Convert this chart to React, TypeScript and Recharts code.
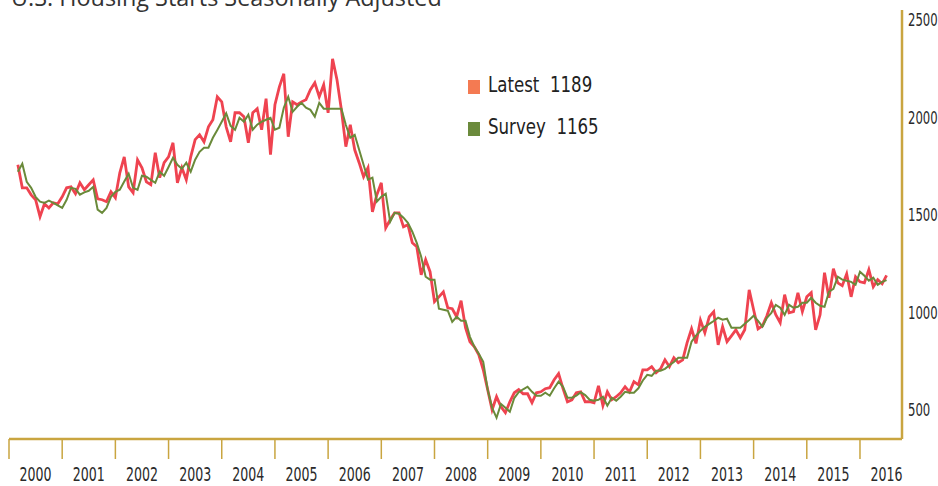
import React from 'react';
import { LineChart, Line, XAxis, YAxis } from 'recharts';

const TITLE = 'U.S. Housing Starts Seasonally Adjusted';
const START_YEAR = 2000;
const START_MONTH = 2; // first observation: February 2000

// Latest (actual) housing starts, thousands SAAR, monthly Feb 2000 – Jun 2016
const latest = [
  1756, 1638, 1638, 1602, 1577, 1490, 1556, 1535, 1561, 1556, 1592,
  1638, 1643, 1608, 1664, 1628, 1654, 1679, 1582, 1577, 1567, 1618, 1587,
  1715, 1797, 1643, 1613, 1782, 1741, 1669, 1654, 1818, 1690, 1767, 1797,
  1869, 1664, 1741, 1679, 1797, 1885, 1910, 1874, 1951, 1987, 2105, 2079,
  1951, 1874, 2023, 2023, 2003, 1869, 2023, 2044, 1936, 2095, 1808, 2064,
  2156, 2223, 1900, 2079, 2064, 2079, 2090, 2141, 2177, 2105, 2167, 2023,
  2300, 2192, 2038, 1849, 1962, 1833, 1767, 1695, 1741, 1515, 1603, 1664,
  1433, 1474, 1510, 1510, 1438, 1449, 1356, 1336, 1192, 1269, 1208, 1054,
  1079, 1105, 1023, 1018, 977, 1059, 921, 849, 823, 782, 705, 603,
  500, 567, 515, 485, 541, 587, 603, 582, 582, 536, 587, 592,
  608, 613, 654, 685, 608, 541, 551, 587, 592, 541, 541, 536,
  623, 521, 592, 551, 567, 587, 618, 592, 644, 628, 705, 705,
  721, 690, 710, 756, 721, 767, 741, 756, 844, 915, 840, 960,
  895, 977, 1003, 833, 926, 849, 879, 910, 869, 910, 1115, 1013,
  915, 931, 982, 1049, 987, 946, 1090, 997, 1003, 1100, 1003, 1079,
  1100, 910, 987, 1203, 1074, 1223, 1151, 1136, 1197, 1079, 1182, 1156,
  1151, 1218, 1131, 1167, 1146, 1189,
];

// Survey (consensus) housing starts, same months
const survey = [
  1721, 1762, 1669, 1638, 1592, 1567, 1561, 1572, 1561, 1548, 1535,
  1577, 1638, 1633, 1603, 1615, 1623, 1643, 1526, 1510, 1535, 1592, 1618,
  1628, 1670, 1710, 1638, 1628, 1700, 1695, 1679, 1664, 1721, 1700, 1745,
  1792, 1756, 1736, 1767, 1721, 1782, 1823, 1844, 1844, 1895, 1935, 1977,
  2020, 1956, 1936, 1997, 1977, 2013, 1936, 1962, 1977, 1987, 1997, 1936,
  1946, 2049, 2105, 2028, 2054, 2074, 2049, 2038, 2003, 2074, 2044, 2044,
  2044, 2044, 2044, 1960, 1895, 1910, 1833, 1756, 1680, 1690, 1567, 1592,
  1608, 1464, 1510, 1505, 1485, 1459, 1413, 1356, 1285, 1182, 1167, 1167,
  1018, 1013, 1008, 951, 977, 956, 956, 874, 823, 787, 746, 603,
  510, 459, 530, 510, 490, 560, 590, 605, 618, 592, 572, 572,
  587, 572, 610, 644, 618, 562, 562, 572, 590, 575, 551, 546,
  551, 567, 521, 562, 546, 567, 592, 587, 587, 610, 650, 679,
  674, 700, 700, 710, 728, 745, 767, 767, 767, 849, 880, 905,
  925, 940, 955, 972, 962, 967, 921, 921, 921, 941, 960, 982,
  956, 926, 972, 997, 1038, 1023, 987, 1038, 1023, 1028, 1049, 1049,
  1074, 1049, 1033, 1028, 1105, 1120, 1182, 1167, 1162, 1156, 1141, 1208,
  1187, 1162, 1177, 1141, 1156, 1165,
];

const yearTicks = [2000, 2001, 2002, 2003, 2004, 2005, 2006, 2007, 2008, 2009, 2010, 2011, 2012, 2013, 2014, 2015, 2016];
const yTicks = [500, 1000, 1500, 2000, 2500];
const xDomain = [2000, 2016.79];
const yDomain = [350, 2550];

const legendItems = [
  { name: 'Latest', value: 1189, color: '#F47A52' },
  { name: 'Survey', value: 1165, color: '#6B8A3C' },
];

const data = latest.map((v, k) => {
  const monthIndex = START_MONTH - 1 + k;
  return { t: START_YEAR + (monthIndex + 1) / 12, latest: v, survey: survey[k] };
});

const CHART_W = 938;
const CHART_H = 486;
const MARGIN = { top: 10, right: 0, left: 9, bottom: 0 };
const Y_AXIS_W = 36;
const PLOT_W = CHART_W - MARGIN.left - MARGIN.right - Y_AXIS_W;
const HALF_YEAR_PX = PLOT_W / (xDomain[1] - xDomain[0]) / 2;

const GOLD = '#C9A540';
const COND = '"DejaVu Sans Condensed", "DejaVu Sans", sans-serif';
const TEXT = '#2a2a2a';

const YearTick = (props: any) => {
  const { x, y, payload } = props;
  const cx = x + HALF_YEAR_PX;
  return (
    <text
      transform={`translate(${cx},${y + 12}) scale(0.7,1)`}
      textAnchor="middle"
      fontFamily={COND}
      fontSize={20}
      fill={TEXT}
    >
      {String(payload.value)}
    </text>
  );
};

const ValueTick = (props: any) => {
  const { x, y, payload } = props;
  return (
    <text
      transform={`translate(${x},${y}) scale(0.72,1)`}
      dy="0.36em"
      textAnchor="start"
      fontFamily={COND}
      fontSize={18}
      fill={TEXT}
    >
      {String(payload.value)}
    </text>
  );
};

export default function App() {
  return (
    <div style={{ position: 'absolute', left: 0, top: 0, width: CHART_W, height: CHART_H, overflow: 'hidden', background: '#fff' }}>
      <LineChart width={CHART_W} height={CHART_H} data={data} margin={MARGIN}>
        <XAxis
          dataKey="t"
          type="number"
          domain={xDomain}
          ticks={yearTicks}
          interval={0}
          height={47}
          tickSize={20}
          tickMargin={10}
          axisLine={{ stroke: GOLD, strokeWidth: 2.5 }}
          tickLine={{ stroke: GOLD, strokeWidth: 1.5 }}
          tick={<YearTick />}
          allowDataOverflow
        />
        <YAxis
          orientation="right"
          type="number"
          domain={yDomain}
          ticks={yTicks}
          interval={0}
          width={Y_AXIS_W}
          tickSize={0}
          tickMargin={6}
          tickLine={false}
          axisLine={{ stroke: GOLD, strokeWidth: 2.5 }}
          tick={<ValueTick />}
          allowDataOverflow
        />
        <Line
          type="linear"
          dataKey="latest"
          stroke="#EF4350"
          strokeWidth={2.8}
          dot={false}
          isAnimationActive={false}
        />
        <Line
          type="linear"
          dataKey="survey"
          stroke="#6A8A3A"
          strokeWidth={2}
          dot={false}
          isAnimationActive={false}
        />
      </LineChart>
      <svg width={CHART_W} height={CHART_H} style={{ position: 'absolute', left: 0, top: 0, pointerEvents: 'none' }}>
        <text x={11} y={6} fontFamily='"Open Sans", sans-serif' fontSize={23.4} fill="#333">
          {TITLE}
        </text>
      </svg>
      {legendItems.map((item, i) => (
        <div key={item.name}>
          <div
            style={{
              position: 'absolute',
              left: 468,
              top: 80 + i * 42,
              width: 12,
              height: 14,
              background: item.color,
            }}
          />
          <div
            style={{
              position: 'absolute',
              left: 488,
              top: 72 + i * 42,
              lineHeight: '26px',
              fontFamily: COND,
              fontSize: 22,
              color: '#222',
              whiteSpace: 'pre',
              transform: 'scaleX(0.84)',
              transformOrigin: 'left center',
            }}
          >
            {item.name + '  ' + item.value}
          </div>
        </div>
      ))}
    </div>
  );
}
